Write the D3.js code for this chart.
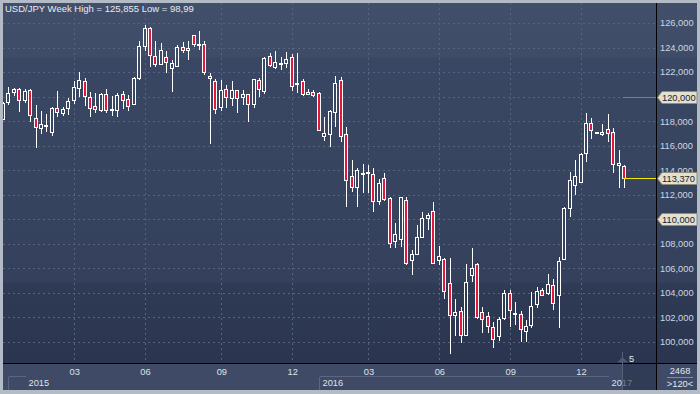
<!DOCTYPE html>
<html>
<head>
<meta charset="utf-8">
<script src="https://cdn.jsdelivr.net/npm/d3@7"></script>
<style>
html, body { margin: 0; padding: 0; background: #b3bbc7; }
svg { display: block; font-family: "Liberation Sans", Arial, sans-serif; }
</style>
</head>
<body>
<svg id="chart" width="700" height="394"></svg>
<script>
// weekly USD/JPY candles, first one is cut by the left edge
const opens = [118.23, 119.5, 120.35, 120.59, 119.67, 120.51, 118.23, 117.41, 117.58, 117.08,
  119.04, 118.63, 119.04, 119.67, 120.67, 121.3, 119.99, 119.23, 118.9, 120.18,
  118.93, 118.9, 120.2, 119.81, 119.4, 121.52, 124.1, 125.59, 123.28, 122.69,
  123.23, 122.33, 122.47, 124.05, 123.8, 124.99, 124.28, 124.29, 121.52, 121.25,
  119.16, 120.62, 119.94, 120.54, 119.97, 120.21, 119.37, 121.32, 120.4, 123.31,
  122.38, 122.71, 122.71, 123.25, 121.03, 121.3, 120.21, 120.37, 120.26, 116.73,
  116.92, 118.72, 121.35, 116.92, 113.53, 112.61, 113.7, 113.83, 113.69, 111.52,
  113.34, 111.71, 108.18, 108.37, 111.58, 106.68, 107.23, 108.53, 110.13, 110.71,
  106.68, 106.74, 104.78, 102.26, 102.56, 100.57, 105.46, 106.33, 102.42, 102.15,
  101.25, 100.44, 101.93, 104.02, 102.33, 102.28, 100.93, 101.39, 103.1, 104.24,
  103.97, 104.65, 103.83, 106.74, 110.9, 112.8, 112.99, 115.43, 117.82, 117.02,
  117.09, 117.33, 117.09, 114.43, 114.37];
const highs = [119.6, 120.75, 120.7, 120.7, 120.59, 120.59, 119.3, 118.82, 118.6, 119.18,
  120.45, 119.18, 119.86, 121.27, 122.03, 121.49, 120.4, 120.3, 120.3, 120.59,
  120.05, 120.3, 120.43, 120.16, 121.57, 124.51, 125.86, 125.7, 124.51, 124.37,
  123.69, 122.96, 124.18, 124.45, 124.56, 125.05, 125.32, 124.56, 121.93, 121.46,
  121.38, 120.97, 121.25, 120.57, 120.52, 120.25, 121.4, 121.49, 123.25, 123.52,
  123.71, 123.2, 123.6, 123.47, 123.52, 121.4, 120.59, 120.53, 120.4, 118.31,
  118.9, 121.68, 121.57, 117.49, 114.83, 114.16, 114.51, 114.43, 114.16, 113.26,
  113.75, 111.85, 109.67, 111.85, 111.85, 107.5, 109.54, 110.57, 110.49, 111.38,
  107.85, 106.82, 106.82, 103.48, 102.88, 106.36, 107.7, 106.41, 102.83, 102.47,
  101.66, 102.07, 104.24, 104.24, 103.29, 102.53, 101.8, 104.1, 104.51, 104.38,
  105.54, 105.1, 106.96, 111.0, 113.88, 114.83, 115.38, 118.64, 118.23, 117.14,
  117.77, 118.58, 117.42, 115.65, 114.43];
const lows = [118.1, 119.3, 120.05, 118.77, 119.5, 117.95, 115.78, 116.95, 117.14, 116.81,
  118.31, 118.4, 118.5, 119.4, 119.94, 119.23, 118.31, 118.69, 118.77, 118.63,
  118.42, 118.36, 119.0, 118.8, 119.29, 121.38, 123.69, 122.39, 122.39, 122.61,
  121.93, 120.38, 122.39, 123.56, 122.96, 124.02, 123.77, 121.79, 116.14, 118.58,
  118.8, 119.07, 119.21, 118.64, 119.3, 117.95, 119.1, 119.94, 120.18, 122.38,
  122.22, 122.17, 122.3, 120.48, 120.26, 120.05, 120.13, 119.94, 117.22, 116.41,
  115.92, 117.55, 116.32, 110.97, 112.25, 111.03, 112.12, 112.17, 110.62, 111.17,
  111.52, 107.64, 107.64, 107.77, 106.28, 105.46, 107.2, 108.5, 109.13, 106.45,
  106.28, 103.48, 98.99, 100.5, 99.95, 100.5, 104.9, 101.85, 100.76, 100.71,
  99.54, 100.11, 101.8, 101.2, 101.39, 100.03, 100.03, 101.12, 102.75, 103.75,
  103.83, 102.6, 101.12, 106.68, 110.22, 111.98, 112.93, 114.7, 116.52, 116.95,
  116.79, 116.33, 113.75, 112.53, 112.53];
const closes = [119.5, 120.26, 120.6, 119.72, 120.43, 118.5, 117.5, 117.76, 117.65, 119.04,
  118.72, 118.96, 119.64, 120.75, 121.35, 120.05, 119.12, 118.96, 120.18, 118.9,
  118.98, 120.13, 119.73, 119.21, 121.52, 124.1, 125.59, 123.37, 122.61, 123.83,
  122.82, 122.74, 124.05, 123.8, 123.94, 124.24, 124.32, 122.0, 121.71, 118.99,
  120.51, 119.94, 120.57, 119.89, 120.21, 119.37, 121.4, 120.59, 123.12, 122.55,
  122.79, 122.75, 123.06, 120.89, 121.07, 120.26, 120.4, 120.1, 117.28, 117.0,
  118.82, 121.08, 116.81, 113.2, 112.61, 114.02, 113.76, 113.88, 111.52, 113.0,
  111.63, 108.04, 108.78, 111.79, 106.47, 107.15, 108.59, 110.08, 110.35, 106.47,
  107.01, 104.1, 102.18, 102.47, 100.57, 104.86, 106.0, 101.98, 101.85, 101.31,
  100.25, 101.85, 103.97, 102.66, 102.4, 101.03, 101.33, 102.94, 104.19, 103.86,
  104.73, 103.15, 106.63, 110.9, 113.2, 113.53, 115.3, 117.88, 117.28, 117.08,
  116.93, 117.0, 114.51, 114.62, 113.37];

const priceTicks = [100, 102, 104, 106, 108, 110, 112, 114, 116, 118, 120, 122, 124, 126];
const monthWeeks = [13, 26, 40, 53, 67, 80, 93, 106];
const monthLabels = ["03", "06", "09", "12", "03", "06", "09", "12"];
const yearWeeks = [1, 4, 58, 111];
const yearLabels = ["", "2015", "2016", "2017"];
const markerValues = [120, 113.37, 110];
const markerColors = ["#1c9cf0", "#f2e600", "#c8102c"];

const title = "USD/JPY Week High = 125,855 Low = 98,99";

const pLeft = 3, pTop = 3, pRight = 656, pBottom = 363, outerRight = 697, footer = 390;
const fontSize = "9.3px";

const fmt = d3.formatLocale({decimal: ",", thousands: ".", grouping: [3], currency: ["", ""]}).format(".3f");

const svg = d3.select("#chart");
const defs = svg.append("defs");

// background shading in user space so hollow candle bodies can reuse it
const grad = defs.append("linearGradient").attr("id", "bg")
    .attr("gradientUnits", "userSpaceOnUse")
    .attr("x1", 0).attr("y1", pTop).attr("x2", 0).attr("y2", pBottom);
[["0%", "#414f6b"], ["15%", "#3e4c68"], ["15.4%", "#3a4764"], ["50%", "#37445f"],
 ["77.6%", "#34405c"], ["78%", "#2f3a55"], ["100%", "#2b3550"]].forEach(s => {
    grad.append("stop").attr("offset", s[0]).attr("stop-color", s[1]);
});

defs.append("clipPath").attr("id", "clip").append("rect")
    .attr("x", pLeft).attr("y", pTop).attr("width", pRight - pLeft).attr("height", pBottom - pTop);

const x = d3.scaleLinear().domain([0, opens.length - 1]).range([2.8, 624.1]);
const y = d3.scaleLinear().domain([100, 126]).range([342, 23]);
const px = v => Math.round(v) + 0.5;

// background
svg.append("rect").attr("x", pLeft).attr("y", pTop).attr("width", outerRight - pLeft).attr("height", pBottom - pTop)
    .attr("fill", "url(#bg)");
svg.append("rect").attr("x", pLeft).attr("y", pBottom).attr("width", outerRight - pLeft).attr("height", footer - pBottom)
    .attr("fill", "#3e4a66");

// grid
const grid = svg.append("g").attr("clip-path", "url(#clip)")
    .attr("stroke", "#56637d").attr("stroke-dasharray", "2,3").attr("shape-rendering", "crispEdges");
grid.selectAll("line.h").data(priceTicks).join("line").attr("class", "h")
    .attr("x1", pLeft).attr("x2", pRight).attr("y1", d => px(y(d))).attr("y2", d => px(y(d)));
grid.selectAll("line.v").data(monthWeeks).join("line").attr("class", "v")
    .attr("x1", d => px(x(d))).attr("x2", d => px(x(d))).attr("y1", pTop).attr("y2", pBottom);

// candles
const idx = d3.range(opens.length);
const cg = svg.append("g").attr("clip-path", "url(#clip)").attr("shape-rendering", "crispEdges");
cg.selectAll("line.wick").data(idx).join("line").attr("class", "wick")
    .attr("x1", i => px(x(i))).attr("x2", i => px(x(i)))
    .attr("y1", i => Math.round(y(highs[i]))).attr("y2", i => Math.round(y(lows[i])))
    .attr("stroke", "#ffffff");
cg.selectAll("rect.body").data(idx).join("rect").attr("class", "body")
    .attr("x", i => px(x(i)) - 2)
    .attr("width", 3)
    .attr("y", i => Math.round(y(Math.max(opens[i], closes[i]))) + 0.5)
    .attr("height", i => Math.max(1, Math.round(Math.abs(y(opens[i]) - y(closes[i])))))
    .attr("fill", i => closes[i] < opens[i] ? "#e3163b" : "url(#bg)")
    .attr("stroke", "#ffffff");

// price axis
svg.append("line").attr("x1", pRight + 0.5).attr("x2", pRight + 0.5).attr("y1", pTop).attr("y2", footer)
    .attr("stroke", "#000");
svg.append("line").attr("x1", pLeft).attr("x2", outerRight).attr("y1", pBottom + 0.5).attr("y2", pBottom + 0.5)
    .attr("stroke", "#000");
// labels hidden under a marker box are left out
svg.append("g").selectAll("text").data(priceTicks.filter(d => !markerValues.includes(d))).join("text")
    .attr("x", 660).attr("y", d => y(d)).attr("dy", "0.36em")
    .attr("fill", "#d0d6e0").style("font-size", fontSize)
    .text(d => fmt(d));

// level markers
const mk = svg.append("g");
markerValues.forEach((v, k) => {
    const yy = px(y(v));
    mk.append("line").attr("x1", 623).attr("x2", pRight).attr("y1", yy).attr("y2", yy)
        .attr("stroke", markerColors[k]).attr("shape-rendering", "crispEdges");
    mk.append("path")
        .attr("d", `M657.5,${yy} L662,${yy - 6} L697,${yy - 6} L697,${yy + 6} L662,${yy + 6} Z`)
        .attr("fill", "#e3e1cd").attr("stroke", "#8e8d7c");
    mk.append("text").attr("x", 662).attr("y", yy).attr("dy", "0.36em")
        .attr("fill", "#18202f").style("font-size", fontSize).text(fmt(v));
});

// title
svg.append("text").attr("x", 5).attr("y", 11.5).attr("fill", "#e8ebf0")
    .style("font-size", "9.5px").text(title);

// time axis: months
svg.append("g").selectAll("text").data(monthWeeks).join("text")
    .attr("x", d => x(d) + 1).attr("y", 375).attr("text-anchor", "middle")
    .attr("fill", "#dfe3ea").style("font-size", fontSize)
    .text((d, i) => monthLabels[i]);

// time axis: years
const yg = svg.append("g").attr("shape-rendering", "crispEdges");
yearWeeks.forEach((w, k) => {
    const x0 = px(x(w));
    const x1 = k < yearWeeks.length - 1 ? px(x(yearWeeks[k + 1])) : pRight;
    if (k % 2 === 0) {
        yg.append("line").attr("x1", x0).attr("x2", x1).attr("y1", 376.5).attr("y2", 376.5).attr("stroke", "#5b6781");
        yg.append("line").attr("x1", x0).attr("x2", x0).attr("y1", 376.5).attr("y2", footer).attr("stroke", "#5b6781");
    }
    yg.append("text").attr("x", x0 + 3).attr("y", 386).attr("fill", "#dfe3ea")
        .style("font-size", fontSize).text(yearLabels[k]);
});

// scroll thumb
svg.append("rect").attr("x", 622).attr("y", pBottom + 1).attr("width", pRight - 622).attr("height", footer - pBottom - 1)
    .attr("fill", "#28324a").attr("fill-opacity", 0.6);
svg.append("line").attr("x1", 622.5).attr("x2", 622.5).attr("y1", 352).attr("y2", footer)
    .attr("stroke", "#56627b").attr("shape-rendering", "crispEdges");
svg.append("path").attr("d", "M617,362.5 L622.5,357 L628,362.5 Z").attr("fill", "#4e5971");
svg.append("text").attr("x", 629).attr("y", 361.5).attr("fill", "#e3e7ee")
    .style("font-size", fontSize).text("5");

// bottom right corner
svg.append("text").attr("x", 680).attr("y", 374).attr("text-anchor", "middle")
    .attr("fill", "#e3e7ee").style("font-size", fontSize).text("2468");
svg.append("line").attr("x1", 667).attr("x2", 693).attr("y1", 377.5).attr("y2", 377.5)
    .attr("stroke", "#7f8ca3").attr("shape-rendering", "crispEdges");
svg.append("text").attr("x", 680).attr("y", 386.5).attr("text-anchor", "middle")
    .attr("fill", "#e3e7ee").style("font-size", fontSize).text(">120<");
</script>
</body>
</html>
